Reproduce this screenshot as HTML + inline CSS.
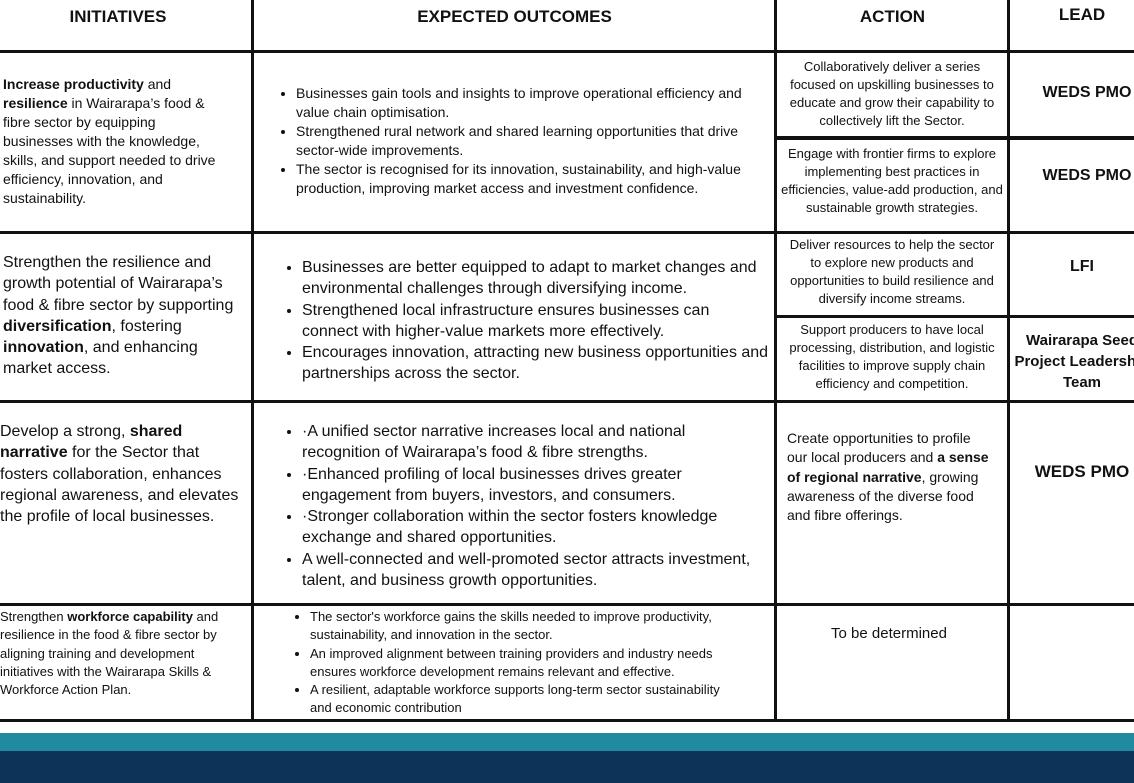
<!DOCTYPE html>
<html><head><meta charset="utf-8"><style>
body{margin:0;width:1134px;height:783px;overflow:hidden;background:#fff;font-family:"Liberation Sans",sans-serif;color:#111;position:relative}
.h{position:absolute;height:3px;background:#111}
.v{position:absolute;width:3px;background:#111}
.t{position:absolute}
.hd{position:absolute;font-weight:bold;font-size:17px;text-align:center}
ul{margin:0;padding-left:22px}
li{margin:0}
.c{text-align:center}
b{font-weight:bold}
.nw{white-space:nowrap}
</style></head><body>
<div class="hd" style="left:0;width:236px;top:7px">INITIATIVES</div>
<div class="hd" style="left:254px;width:521px;top:7px">EXPECTED OUTCOMES</div>
<div class="hd" style="left:777px;width:231px;top:7px">ACTION</div>
<div class="hd" style="left:1010px;width:144px;top:5px">LEAD</div>

<div class="v" style="left:251px;top:0;height:722px"></div>
<div class="v" style="left:774px;top:0;height:722px"></div>
<div class="v" style="left:1007px;top:0;height:722px"></div>
<div class="h" style="left:0;width:1134px;top:50px"></div>
<div class="h" style="left:775px;width:359px;top:136px;height:4px"></div>
<div class="h" style="left:0;width:1134px;top:231px"></div>
<div class="h" style="left:775px;width:359px;top:315px"></div>
<div class="h" style="left:0;width:1134px;top:400px"></div>
<div class="h" style="left:0;width:1134px;top:603px"></div>
<div class="h" style="left:0;width:1134px;top:719px"></div>
<div style="position:absolute;left:0;top:733px;width:1134px;height:18px;background:#1f8aa0"></div>
<div style="position:absolute;left:0;top:751px;width:1134px;height:32px;background:#0e3358"></div>

<div class="t" style="left:3px;top:75px;width:218px;font-size:14px;line-height:19px"><b>Increase productivity</b> and <b>resilience</b> in Wairarapa’s food &amp; fibre sector by equipping businesses with the knowledge, skills, and support needed to drive efficiency, innovation, and sustainability.</div>
<div class="t" style="left:274px;top:84px;width:480px;font-size:14px;line-height:19px"><ul>
<li>Businesses gain tools and insights to improve operational efficiency and value chain optimisation.</li>
<li>Strengthened rural network and shared learning opportunities that drive sector-wide improvements.</li>
<li>The sector is recognised for its innovation, sustainability, and high-value production, improving market access and investment confidence.</li></ul></div>
<div class="t c" style="left:786px;top:58px;width:212px;font-size:13px;line-height:18px">Collaboratively deliver a series focused on upskilling businesses to educate and grow their capability to collectively lift the Sector.</div>
<div class="t c" style="left:1010px;top:84px;width:154px;font-size:16px;font-weight:bold">WEDS PMO</div>
<div class="t c" style="left:780px;top:145px;width:224px;font-size:13px;line-height:18px">Engage with frontier firms to explore implementing best practices in efficiencies, value-add production, and sustainable growth strategies.</div>
<div class="t c" style="left:1010px;top:167px;width:154px;font-size:16px;font-weight:bold">WEDS PMO</div>

<div class="t nw" style="left:3px;top:252px;font-size:16px;line-height:21.3px">Strengthen the resilience and<br>growth potential of Wairarapa’s<br>food &amp; fibre sector by supporting<br><b>diversification</b>, fostering<br><b>innovation</b>, and enhancing<br>market access.</div>
<div class="t nw" style="left:280px;top:257px;font-size:16px;line-height:21.3px"><ul>
<li>Businesses are better equipped to adapt to market changes and<br>environmental challenges through diversifying income.</li>
<li>Strengthened local infrastructure ensures businesses can<br>connect with higher-value markets more effectively.</li>
<li>Encourages innovation, attracting new business opportunities and<br>partnerships across the sector.</li></ul></div>
<div class="t c" style="left:783px;top:236px;width:218px;font-size:13px;line-height:18px">Deliver resources to help the sector to explore new products and opportunities to build resilience and diversify income streams.</div>
<div class="t c" style="left:1010px;top:258px;width:144px;font-size:16px;font-weight:bold">LFI</div>
<div class="t c" style="left:780px;top:321px;width:224px;font-size:13px;line-height:18px">Support producers to have local processing, distribution, and logistic facilities to improve supply chain efficiency and competition.</div>
<div class="t c" style="left:1010px;top:330px;width:144px;font-size:15px;line-height:21px;font-weight:bold;white-space:nowrap">Wairarapa Seed<br>Project Leadership<br>Team</div>

<div class="t nw" style="left:0;top:421px;font-size:16px;line-height:21.3px">Develop a strong, <b>shared</b><br><b>narrative</b> for the Sector that<br>fosters collaboration, enhances<br>regional awareness, and elevates<br>the profile of local businesses.</div>
<div class="t nw" style="left:280px;top:421px;font-size:16px;line-height:21.3px"><ul>
<li>·A unified sector narrative increases local and national<br>recognition of Wairarapa’s food &amp; fibre strengths.</li>
<li>·Enhanced profiling of local businesses drives greater<br>engagement from buyers, investors, and consumers.</li>
<li>·Stronger collaboration within the sector fosters knowledge<br>exchange and shared opportunities.</li>
<li>A well-connected and well-promoted sector attracts investment,<br>talent, and business growth opportunities.</li></ul></div>
<div class="t" style="left:787px;top:429px;width:205px;font-size:14px;line-height:19.3px">Create opportunities to profile our local producers and <b>a sense of regional narrative</b>, growing awareness of the diverse food and fibre offerings.</div>
<div class="t c" style="left:1010px;top:462px;width:144px;font-size:17px;font-weight:bold">WEDS PMO</div>

<div class="t" style="left:0;top:608px;width:232px;font-size:13px;line-height:18.3px">Strengthen <b>workforce capability</b> and resilience in the food &amp; fibre sector by aligning training and development initiatives with the Wairarapa Skills &amp; Workforce Action Plan.</div>
<div class="t" style="left:288px;top:608px;width:455px;font-size:13px;line-height:18.3px"><ul>
<li>The sector's workforce gains the skills needed to improve productivity, sustainability, and innovation in the sector.</li>
<li>An improved alignment between training providers and industry needs ensures workforce development remains relevant and effective.</li>
<li>A resilient, adaptable workforce supports long-term sector sustainability and economic contribution</li></ul></div>
<div class="t c" style="left:778px;top:625px;width:222px;font-size:15px">To be determined</div>
</body></html>
